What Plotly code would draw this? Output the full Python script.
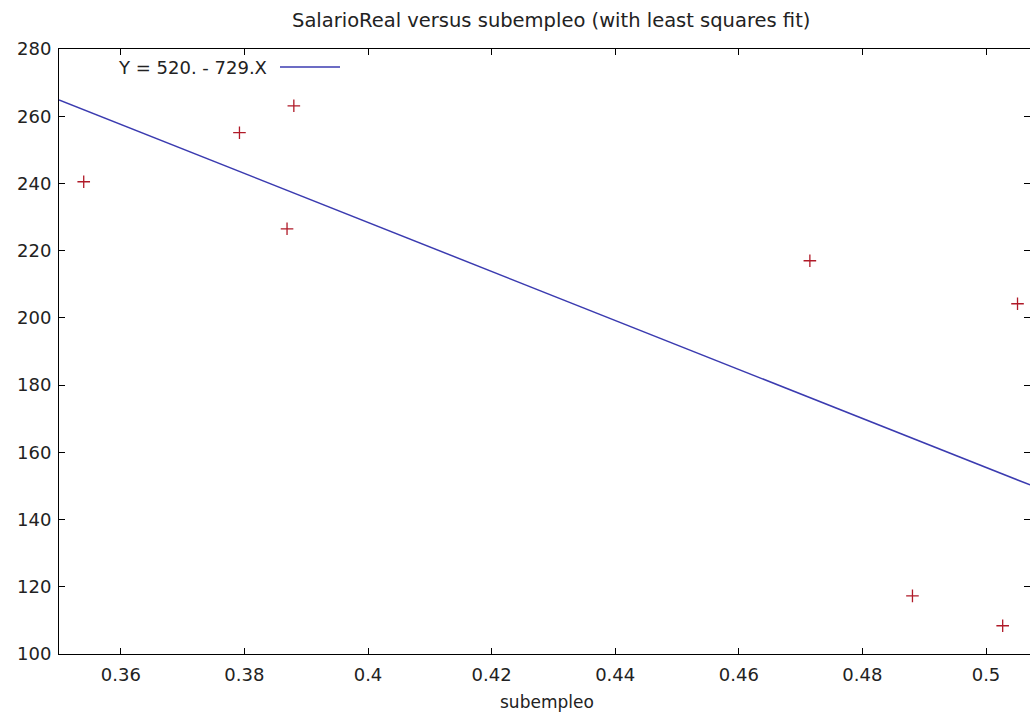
import plotly.graph_objects as go

# Data
subempleo = [0.354, 0.3792, 0.3880, 0.3869, 0.4715, 0.5051, 0.4881, 0.5027]
salario_real = [240.5, 255.1, 263.1, 226.5, 217.0, 204.2, 117.3, 108.4]

fit_intercept = 520.0
fit_slope = -729.0
fit_label = "Y = 520. - 729.X"

x_range = [0.35, 0.50712]
y_range = [100, 280]
x_tickvals = [0.36, 0.38, 0.40, 0.42, 0.44, 0.46, 0.48, 0.50]
x_ticktext = ["0.36", "0.38", "0.4", "0.42", "0.44", "0.46", "0.48", "0.5"]
y_tickvals = [100, 120, 140, 160, 180, 200, 220, 240, 260, 280]

fit_x = x_range
fit_y = [fit_intercept + fit_slope * v for v in fit_x]

FONT = "DejaVu Sans"
TXT = "#222222"

fig = go.Figure()
fig.add_trace(go.Scatter(
    x=fit_x, y=fit_y, mode="lines",
    line=dict(color="#3b3bb0", width=1.5),
    showlegend=False,
))
fig.add_trace(go.Scatter(
    x=subempleo, y=salario_real, mode="markers",
    marker=dict(symbol="cross-thin", size=9,
                line=dict(color="#b01a28", width=1.3)),
    showlegend=False,
))

axis_common = dict(
    showgrid=False, zeroline=False, showline=True, linecolor="black",
    linewidth=1, ticks="inside", ticklen=6, tickcolor="black", mirror="ticks",
    tickfont=dict(family=FONT, size=18, color=TXT),
)

PW, PH = 971, 605
fig.update_layout(
    width=1030, height=713,
    margin=dict(l=59, r=0, t=49, b=59),
    paper_bgcolor="white", plot_bgcolor="white",
    xaxis=dict(range=x_range, tickvals=x_tickvals, ticktext=x_ticktext,
               ticklabelstandoff=4, **axis_common),
    yaxis=dict(range=y_range, tickvals=y_tickvals,
               ticklabelstandoff=3, **axis_common),
    annotations=[
        dict(text="SalarioReal versus subempleo (with least squares fit)",
             xref="paper", yref="paper", x=(551 - 59) / PW, y=1,
             yshift=29, xanchor="center", yanchor="middle", showarrow=False,
             font=dict(family=FONT, size=19.5, color=TXT)),
        dict(text="subempleo", xref="paper", yref="paper",
             x=(547 - 59) / PW, y=0, yshift=-48, xanchor="center",
             yanchor="middle", showarrow=False,
             font=dict(family=FONT, size=17, color=TXT)),
        dict(text=fit_label, xref="paper", yref="paper",
             x=(269 - 59) / PW, y=1, yshift=-18, xanchor="right",
             yanchor="middle", showarrow=False,
             font=dict(family=FONT, size=18, color=TXT)),
    ],
    shapes=[
        dict(type="line", xref="paper", yref="paper",
             x0=(280 - 59) / PW, x1=(340 - 59) / PW,
             y0=(654 - 67) / PH, y1=(654 - 67) / PH,
             line=dict(color="#3b3bb0", width=1.5)),
    ],
)

fig.write_html(
    "out.html",
    config={"displayModeBar": False},
    post_script="document.body.style.margin='0';"
                "document.body.style.overflow='hidden';",
)
